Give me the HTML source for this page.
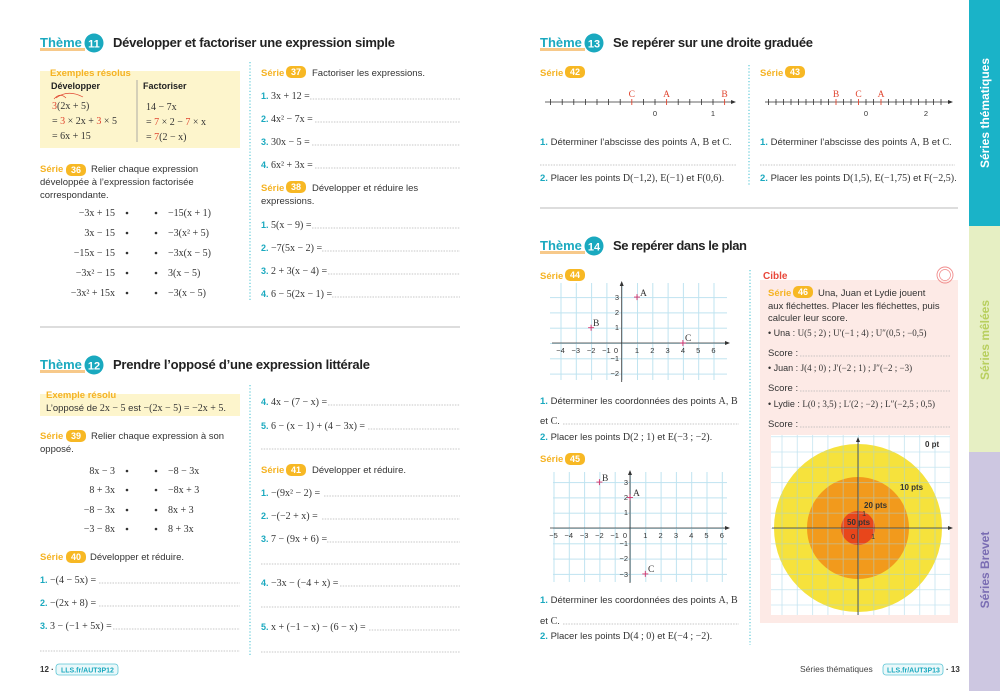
<!DOCTYPE html>
<html><head><meta charset="utf-8"><style>
html,body{margin:0;padding:0;background:#fff;}
svg{display:block;font-family:"Liberation Sans",sans-serif;}
.t{font-size:9.5px;fill:#333;}
.m{font-family:"Liberation Serif",serif;font-size:10px;fill:#333;}
.n{fill:#1aa9bf;font-weight:bold;font-family:"Liberation Sans",sans-serif;}
.ser{font-size:9.5px;fill:#f5b324;font-weight:bold;}
.bt{font-size:9px;fill:#fff;font-weight:bold;}
.th{font-size:13px;fill:#1aa9bf;font-weight:bold;}
.tt{font-size:13px;fill:#222;font-weight:bold;}
.dl{stroke:#b5b5b5;stroke-width:0.8;stroke-dasharray:1.5 1.2;}
.vd{stroke:#3cbfd0;stroke-width:1;stroke-dasharray:1.2 2;}
.ax{stroke:#333;stroke-width:0.8;fill:none;}
.sm{font-size:7.5px;fill:#333;}
.r{fill:#e0452f;}
</style></head><body>
<svg width="1000" height="691" viewBox="0 0 1000 691" xmlns="http://www.w3.org/2000/svg">
<defs>
<pattern id="g1" x="621.7" y="343" width="15.3" height="15.3" patternUnits="userSpaceOnUse"><path d="M0 0.5H15.3M0.5 0V15.3" stroke="#bfe3f0" stroke-width="1"/></pattern>
<pattern id="g2" x="630" y="528" width="15.3" height="15.3" patternUnits="userSpaceOnUse"><path d="M0 0.5H15.3M0.5 0V15.3" stroke="#bfe3f0" stroke-width="1"/></pattern>
<pattern id="g3" x="858" y="528" width="15.3" height="15.3" patternUnits="userSpaceOnUse"><path d="M0 0.5H15.3M0.5 0V15.3" stroke="#9fd3e6" stroke-width="0.8"/></pattern>
</defs>

<!-- sidebar -->
<rect x="969" y="0" width="31" height="228" fill="#1ab3c8"/>
<rect x="969" y="226" width="31" height="228" fill="#e6efc3"/>
<rect x="969" y="452" width="31" height="239" fill="#cdc7e1"/>
<text transform="translate(989,113) rotate(-90)" text-anchor="middle" style="font-size:12px;font-weight:bold;fill:#fff">Séries thématiques</text>
<text transform="translate(989,340) rotate(-90)" text-anchor="middle" style="font-size:12px;font-weight:bold;fill:#b8cf5e">Séries mêlées</text>
<text transform="translate(989,570) rotate(-90)" text-anchor="middle" style="font-size:12px;font-weight:bold;fill:#7a6db3">Séries Brevet</text>

<!-- ===== LEFT PAGE ===== -->
<rect x="40" y="48" width="45" height="3" fill="#f7c98a"/>
<text x="40" y="47" class="th">Thème</text>
<circle cx="94" cy="43" r="9.5" fill="#1aa9bf"/><text x="94" y="47.5" text-anchor="middle" style="font-size:11px;font-weight:bold;fill:#fff">11</text>
<text x="113" y="47" class="tt" textLength="282">Développer et factoriser une expression simple</text>

<rect x="40" y="71" width="200" height="77" fill="#fdf5cc"/>
<text x="50" y="76" style="font-size:9.5px;fill:#f5b324;font-weight:bold">Exemples résolus</text>
<text x="51" y="89" style="font-size:9px;font-weight:bold;fill:#222">Développer</text>
<text x="143" y="89" style="font-size:9px;font-weight:bold;fill:#222">Factoriser</text>
<line x1="137" y1="80" x2="137" y2="142" stroke="#999" stroke-width="0.8"/>
<path d="M54 99 Q60 92 66 98 M56 98 Q68 89 83 97" stroke="#e0452f" fill="none" stroke-width="0.7"/>
<text x="52" y="109" class="m"><tspan class="r">3</tspan>(2x + 5)</text>
<text x="52" y="124" class="m">= <tspan class="r">3</tspan> × 2x + <tspan class="r">3</tspan> × 5</text>
<text x="52" y="139" class="m">= 6x + 15</text>
<text x="146" y="110" class="m">14 − 7x</text>
<text x="146" y="125" class="m">= <tspan class="r">7</tspan> × 2 − <tspan class="r">7</tspan> × x</text>
<text x="146" y="140" class="m">= <tspan class="r">7</tspan>(2 − x)</text>

<text x="40" y="172" class="ser">Série</text><rect x="66" y="164" width="20" height="12" rx="5" fill="#f7b824"/><text x="76" y="173" text-anchor="middle" class="bt">36</text>
<text x="91" y="172" class="t">Relier chaque expression</text>
<text x="40" y="185" class="t">développée à l’expression factorisée</text>
<text x="40" y="198" class="t">correspondante.</text>
<g class="m" text-anchor="end">
<text x="115" y="216">−3x + 15</text><text x="115" y="236">3x − 15</text><text x="115" y="256">−15x − 15</text><text x="115" y="276">−3x² − 15</text><text x="115" y="296">−3x² + 15x</text>
</g>
<g class="m">
<text x="168" y="216">−15(x + 1)</text><text x="168" y="236">−3(x² + 5)</text><text x="168" y="256">−3x(x − 5)</text><text x="168" y="276">3(x − 5)</text><text x="168" y="296">−3(x − 5)</text>
</g>
<g fill="#333"><circle cx="127" cy="213" r="1.3"/><circle cx="156" cy="213" r="1.3"/><circle cx="127" cy="233" r="1.3"/><circle cx="156" cy="233" r="1.3"/><circle cx="127" cy="253" r="1.3"/><circle cx="156" cy="253" r="1.3"/><circle cx="127" cy="273" r="1.3"/><circle cx="156" cy="273" r="1.3"/><circle cx="127" cy="293" r="1.3"/><circle cx="156" cy="293" r="1.3"/></g>

<line x1="250" y1="62" x2="250" y2="300" class="vd"/>
<text x="261" y="76" class="ser">Série</text><rect x="286" y="66" width="20" height="12" rx="5" fill="#f7b824"/><text x="296" y="75" text-anchor="middle" class="bt">37</text>
<text x="312" y="76" class="t">Factoriser les expressions.</text>
<text x="261" y="99" class="m"><tspan class="n" style="font-size:9px">1.</tspan> 3x + 12 =</text><line x1="310" y1="99" x2="460" y2="99" class="dl"/>
<text x="261" y="122" class="m"><tspan class="n" style="font-size:9px">2.</tspan> 4x² − 7x =</text><line x1="315" y1="122" x2="460" y2="122" class="dl"/>
<text x="261" y="145" class="m"><tspan class="n" style="font-size:9px">3.</tspan> 30x − 5 =</text><line x1="312" y1="145" x2="460" y2="145" class="dl"/>
<text x="261" y="168" class="m"><tspan class="n" style="font-size:9px">4.</tspan> 6x² + 3x =</text><line x1="315" y1="168" x2="460" y2="168" class="dl"/>
<text x="261" y="191" class="ser">Série</text><rect x="286" y="181" width="20" height="12" rx="5" fill="#f7b824"/><text x="296" y="190" text-anchor="middle" class="bt">38</text>
<text x="312" y="191" class="t">Développer et réduire les</text>
<text x="261" y="204" class="t">expressions.</text>
<text x="261" y="228" class="m"><tspan class="n" style="font-size:9px">1.</tspan> 5(x − 9) =</text><line x1="312" y1="228" x2="460" y2="228" class="dl"/>
<text x="261" y="251" class="m"><tspan class="n" style="font-size:9px">2.</tspan> −7(5x − 2) =</text><line x1="322" y1="251" x2="460" y2="251" class="dl"/>
<text x="261" y="274" class="m"><tspan class="n" style="font-size:9px">3.</tspan> 2 + 3(x − 4) =</text><line x1="328" y1="274" x2="460" y2="274" class="dl"/>
<text x="261" y="297" class="m"><tspan class="n" style="font-size:9px">4.</tspan> 6 − 5(2x − 1) =</text><line x1="332" y1="297" x2="460" y2="297" class="dl"/>

<line x1="40" y1="327" x2="460" y2="327" stroke="#bbb" stroke-width="1"/>

<rect x="40" y="370" width="45" height="3" fill="#f7c98a"/>
<text x="40" y="369" class="th">Thème</text>
<circle cx="94" cy="365" r="9.5" fill="#1aa9bf"/><text x="94" y="369.5" text-anchor="middle" style="font-size:11px;font-weight:bold;fill:#fff">12</text>
<text x="113" y="369" class="tt" textLength="257">Prendre l’opposé d’une expression littérale</text>

<rect x="40" y="394" width="200" height="22" fill="#fdf5cc"/>
<text x="46" y="398" style="font-size:9.5px;fill:#f5b324;font-weight:bold">Exemple résolu</text>
<text x="46" y="411" class="t">L’opposé de <tspan class="m">2x − 5</tspan> est <tspan class="m">−(2x − 5) = −2x + 5</tspan>.</text>

<text x="40" y="439" class="ser">Série</text><rect x="66" y="430" width="20" height="12" rx="5" fill="#f7b824"/><text x="76" y="439" text-anchor="middle" class="bt">39</text>
<text x="91" y="439" class="t">Relier chaque expression à son</text>
<text x="40" y="452" class="t">opposé.</text>
<g class="m" text-anchor="end"><text x="115" y="474">8x − 3</text><text x="115" y="493">8 + 3x</text><text x="115" y="513">−8 − 3x</text><text x="115" y="532">−3 − 8x</text></g>
<g class="m"><text x="168" y="474">−8 − 3x</text><text x="168" y="493">−8x + 3</text><text x="168" y="513">8x + 3</text><text x="168" y="532">8 + 3x</text></g>
<g fill="#333"><circle cx="127" cy="471" r="1.3"/><circle cx="156" cy="471" r="1.3"/><circle cx="127" cy="490" r="1.3"/><circle cx="156" cy="490" r="1.3"/><circle cx="127" cy="510" r="1.3"/><circle cx="156" cy="510" r="1.3"/><circle cx="127" cy="529" r="1.3"/><circle cx="156" cy="529" r="1.3"/></g>

<text x="40" y="560" class="ser">Série</text><rect x="66" y="551" width="20" height="12" rx="5" fill="#f7b824"/><text x="76" y="560" text-anchor="middle" class="bt">40</text>
<text x="90" y="560" class="t">Développer et réduire.</text>
<text x="40" y="583" class="m"><tspan class="n" style="font-size:9px">1.</tspan> −(4 − 5x) =</text><line x1="99" y1="583" x2="240" y2="583" class="dl"/>
<text x="40" y="606" class="m"><tspan class="n" style="font-size:9px">2.</tspan> −(2x + 8) =</text><line x1="99" y1="606" x2="240" y2="606" class="dl"/>
<text x="40" y="629" class="m"><tspan class="n" style="font-size:9px">3.</tspan> 3 − (−1 + 5x) =</text><line x1="113" y1="629" x2="240" y2="629" class="dl"/>
<line x1="40" y1="651" x2="240" y2="651" class="dl"/>

<line x1="250" y1="385" x2="250" y2="655" class="vd"/>
<text x="261" y="405" class="m"><tspan class="n" style="font-size:9px">4.</tspan> 4x − (7 − x) =</text><line x1="328" y1="405" x2="460" y2="405" class="dl"/>
<text x="261" y="429" class="m"><tspan class="n" style="font-size:9px">5.</tspan> 6 − (x − 1) + (4 − 3x) =</text><line x1="368" y1="429" x2="460" y2="429" class="dl"/>
<line x1="261" y1="449" x2="460" y2="449" class="dl"/>
<text x="261" y="473" class="ser">Série</text><rect x="286" y="464" width="20" height="12" rx="5" fill="#f7b824"/><text x="296" y="473" text-anchor="middle" class="bt">41</text>
<text x="312" y="473" class="t">Développer et réduire.</text>
<text x="261" y="496" class="m"><tspan class="n" style="font-size:9px">1.</tspan> −(9x² − 2) =</text><line x1="324" y1="496" x2="460" y2="496" class="dl"/>
<text x="261" y="519" class="m"><tspan class="n" style="font-size:9px">2.</tspan> −(−2 + x) =</text><line x1="322" y1="519" x2="460" y2="519" class="dl"/>
<text x="261" y="542" class="m"><tspan class="n" style="font-size:9px">3.</tspan> 7 − (9x + 6) =</text><line x1="327" y1="542" x2="460" y2="542" class="dl"/>
<line x1="261" y1="564" x2="460" y2="564" class="dl"/>
<text x="261" y="586" class="m"><tspan class="n" style="font-size:9px">4.</tspan> −3x − (−4 + x) =</text><line x1="340" y1="586" x2="460" y2="586" class="dl"/>
<line x1="261" y1="607" x2="460" y2="607" class="dl"/>
<text x="261" y="630" class="m"><tspan class="n" style="font-size:9px">5.</tspan> x + (−1 − x) − (6 − x) =</text><line x1="369" y1="630" x2="460" y2="630" class="dl"/>
<line x1="261" y1="652" x2="460" y2="652" class="dl"/>

<text x="40" y="672" style="font-size:8px;font-weight:bold;fill:#333">12 ·</text>
<rect x="56" y="664" width="62" height="11" rx="3" fill="#eaf8fa" stroke="#5cc5d5" stroke-width="0.8"/>
<text x="61" y="672.5" style="font-size:7px;fill:#1aa9bf;font-weight:bold">LLS.fr/AUT3P12</text>

<!-- ===== RIGHT PAGE ===== -->
<rect x="540" y="48" width="45" height="3" fill="#f7c98a"/>
<text x="540" y="47" class="th">Thème</text>
<circle cx="594" cy="43" r="9.5" fill="#1aa9bf"/><text x="594" y="47.5" text-anchor="middle" style="font-size:11px;font-weight:bold;fill:#fff">13</text>
<text x="613" y="47" class="tt" textLength="200">Se repérer sur une droite graduée</text>

<text x="540" y="76" class="ser">Série</text><rect x="565" y="66" width="20" height="12" rx="5" fill="#f7b824"/><text x="575" y="75" text-anchor="middle" class="bt">42</text>
<text x="760" y="76" class="ser">Série</text><rect x="785" y="66" width="20" height="12" rx="5" fill="#f7b824"/><text x="795" y="75" text-anchor="middle" class="bt">43</text>

<!-- number line 1 -->
<line x1="545" y1="102" x2="733" y2="102" class="ax"/><path d="M736 102 l-5 -2 v4z" fill="#333"/>
<path d="M550.6 99v6M562.2 99v6M573.8 99v6M585.4 99v6M597 99v6M608.6 99v6M620.2 99v6M643.4 99v6M655 99v6M678.2 99v6M689.8 99v6M701.4 99v6M713 99v6" stroke="#333" stroke-width="0.8"/>
<path d="M631.8 99v6M666.6 99v6M724.6 99v6" stroke="#e0452f" stroke-width="0.9"/>
<g class="m r" text-anchor="middle" style="font-size:9.5px"><text x="631.8" y="97" class="r">C</text><text x="666.6" y="97" class="r">A</text><text x="724.6" y="97" class="r">B</text></g>
<text x="655" y="116" class="sm" text-anchor="middle">0</text><text x="713" y="116" class="sm" text-anchor="middle">1</text>

<!-- number line 2 -->
<line x1="765" y1="102" x2="950" y2="102" class="ax"/><path d="M953 102 l-5 -2 v4z" fill="#333"/>
<path d="M768.5 99v6M776 99v6M783.5 99v6M791 99v6M798.5 99v6M806 99v6M813.5 99v6M821 99v6M828.5 99v6M843.5 99v6M851 99v6M866 99v6M873.5 99v6M888.5 99v6M896 99v6M903.5 99v6M911 99v6M918.5 99v6M926 99v6M933.5 99v6M941 99v6" stroke="#333" stroke-width="0.8"/>
<path d="M836 99v6M858.5 99v6M881 99v6" stroke="#e0452f" stroke-width="0.9"/>
<g class="m" text-anchor="middle" style="font-size:9.5px"><text x="836" y="97" class="r">B</text><text x="858.5" y="97" class="r">C</text><text x="881" y="97" class="r">A</text></g>
<text x="866" y="116" class="sm" text-anchor="middle">0</text><text x="926" y="116" class="sm" text-anchor="middle">2</text>

<text x="540" y="145" class="t"><tspan class="n">1.</tspan> Déterminer l’abscisse des points <tspan class="m">A</tspan>, <tspan class="m">B</tspan> et <tspan class="m">C</tspan>.</text>
<text x="760" y="145" class="t"><tspan class="n">1.</tspan> Déterminer l’abscisse des points <tspan class="m">A</tspan>, <tspan class="m">B</tspan> et <tspan class="m">C</tspan>.</text>
<line x1="540" y1="165" x2="737" y2="165" class="dl"/><line x1="760" y1="165" x2="955" y2="165" class="dl"/>
<text x="540" y="181" class="t"><tspan class="n">2.</tspan> Placer les points <tspan class="m">D(−1,2)</tspan>, <tspan class="m">E(−1)</tspan> et <tspan class="m">F(0,6)</tspan>.</text>
<text x="760" y="181" class="t"><tspan class="n">2.</tspan> Placer les points <tspan class="m">D(1,5)</tspan>, <tspan class="m">E(−1,75)</tspan> et <tspan class="m">F(−2,5)</tspan>.</text>
<line x1="749" y1="65" x2="749" y2="185" class="vd"/>

<line x1="540" y1="208" x2="958" y2="208" stroke="#bbb" stroke-width="1"/>

<rect x="540" y="251" width="45" height="3" fill="#f7c98a"/>
<text x="540" y="250" class="th">Thème</text>
<circle cx="594" cy="246" r="9.5" fill="#1aa9bf"/><text x="594" y="250.5" text-anchor="middle" style="font-size:11px;font-weight:bold;fill:#fff">14</text>
<text x="613" y="250" class="tt" textLength="134">Se repérer dans le plan</text>

<text x="540" y="279" class="ser">Série</text><rect x="565" y="269" width="20" height="12" rx="5" fill="#f7b824"/><text x="575" y="278" text-anchor="middle" class="bt">44</text>

<!-- graph 1 -->
<rect x="550" y="283" width="177" height="97" fill="url(#g1)"/>
<line x1="552" y1="343" x2="727" y2="343" class="ax"/><path d="M730 343 l-5 -2 v4z" fill="#333"/>
<line x1="621.7" y1="382" x2="621.7" y2="284" class="ax"/><path d="M621.7 281 l-2 5 h4z" fill="#333"/>
<g class="sm" text-anchor="middle"><text x="560.5" y="353">−4</text><text x="575.8" y="353">−3</text><text x="591.1" y="353">−2</text><text x="606.4" y="353">−1</text><text x="637" y="353">1</text><text x="652.3" y="353">2</text><text x="667.6" y="353">3</text><text x="682.9" y="353">4</text><text x="698.2" y="353">5</text><text x="713.5" y="353">6</text></g>
<g class="sm" text-anchor="end"><text x="618" y="353">0</text><text x="619" y="300">3</text><text x="619" y="315">2</text><text x="619" y="330">1</text><text x="619" y="361">−1</text><text x="619" y="376">−2</text></g>
<g stroke="#d6336c" stroke-width="0.9"><path d="M634 297.1h6M637 294.1v6M588.1 327.7h6M591.1 324.7v6M679.9 343h6M682.9 340v6"/></g>
<g class="m" style="font-size:9.5px"><text x="640" y="296">A</text><text x="593" y="326">B</text><text x="685" y="341">C</text></g>

<text x="540" y="404" class="t"><tspan class="n">1.</tspan> Déterminer les coordonnées des points <tspan class="m">A</tspan>, <tspan class="m">B</tspan></text>
<text x="540" y="424" class="t">et <tspan class="m">C</tspan>.</text><line x1="563" y1="424" x2="739" y2="424" class="dl"/>
<text x="540" y="440" class="t"><tspan class="n">2.</tspan> Placer les points <tspan class="m">D(2 ; 1)</tspan> et <tspan class="m">E(−3 ; −2)</tspan>.</text>

<text x="540" y="462" class="ser">Série</text><rect x="565" y="453" width="20" height="12" rx="5" fill="#f7b824"/><text x="575" y="462" text-anchor="middle" class="bt">45</text>

<!-- graph 2 -->
<rect x="553" y="472" width="174" height="110" fill="url(#g2)"/>
<line x1="550" y1="528" x2="727" y2="528" class="ax"/><path d="M730 528 l-5 -2 v4z" fill="#333"/>
<line x1="630" y1="583" x2="630" y2="473" class="ax"/><path d="M630 470 l-2 5 h4z" fill="#333"/>
<g class="sm" text-anchor="middle"><text x="553.5" y="538">−5</text><text x="568.8" y="538">−4</text><text x="584.1" y="538">−3</text><text x="599.4" y="538">−2</text><text x="614.7" y="538">−1</text><text x="645.3" y="538">1</text><text x="660.6" y="538">2</text><text x="675.9" y="538">3</text><text x="691.2" y="538">4</text><text x="706.5" y="538">5</text><text x="721.8" y="538">6</text></g>
<g class="sm" text-anchor="end"><text x="627" y="538">0</text><text x="628" y="485">3</text><text x="628" y="500">2</text><text x="628" y="515">1</text><text x="628" y="546">−1</text><text x="628" y="561">−2</text><text x="628" y="577">−3</text></g>
<g stroke="#d6336c" stroke-width="0.9"><path d="M596.4 482.1h6M599.4 479.1v6M627 497.4h6M630 494.4v6M642.3 573.9h6M645.3 570.9v6"/></g>
<g class="m" style="font-size:9.5px"><text x="602" y="481">B</text><text x="633" y="496">A</text><text x="648" y="572">C</text></g>

<text x="540" y="603" class="t"><tspan class="n">1.</tspan> Déterminer les coordonnées des points <tspan class="m">A</tspan>, <tspan class="m">B</tspan></text>
<text x="540" y="624" class="t">et <tspan class="m">C</tspan>.</text><line x1="563" y1="624" x2="739" y2="624" class="dl"/>
<text x="540" y="639" class="t"><tspan class="n">2.</tspan> Placer les points <tspan class="m">D(4 ; 0)</tspan> et <tspan class="m">E(−4 ; −2)</tspan>.</text>
<line x1="750" y1="270" x2="750" y2="645" class="vd"/>

<!-- Cible -->
<rect x="760" y="280" width="198" height="343" fill="#fdeae6"/>
<text x="763" y="279" style="font-size:10px;font-weight:bold;fill:#e8473a">Cible</text>
<circle cx="945" cy="275" r="8" fill="none" stroke="#f08a8a" stroke-width="0.9"/><circle cx="945" cy="275" r="5.5" fill="none" stroke="#f08a8a" stroke-width="0.7"/>
<text x="768" y="296" class="ser">Série</text><rect x="793" y="286" width="20" height="12" rx="5" fill="#f7b824"/><text x="803" y="295" text-anchor="middle" class="bt">46</text>
<text x="818" y="296" class="t">Una, Juan et Lydie jouent</text>
<text x="768" y="309" class="t">aux fléchettes. Placer les fléchettes, puis</text>
<text x="768" y="321" class="t">calculer leur score.</text>
<text x="768" y="336" class="t" style="font-size:9px">• Una : <tspan class="m" style="font-size:9px">U(5 ; 2) ; U′(−1 ; 4) ; U″(0,5 ; −0,5)</tspan></text>
<text x="768" y="356" class="t">Score :</text><line x1="800" y1="356" x2="950" y2="356" class="dl"/>
<text x="768" y="371" class="t" style="font-size:9px">• Juan : <tspan class="m" style="font-size:9px">J(4 ; 0) ; J′(−2 ; 1) ; J″(−2 ; −3)</tspan></text>
<text x="768" y="391" class="t">Score :</text><line x1="800" y1="391" x2="950" y2="391" class="dl"/>
<text x="768" y="407" class="t" style="font-size:9px">• Lydie : <tspan class="m" style="font-size:9px">L(0 ; 3,5) ; L′(2 ; −2) ; L″(−2,5 ; 0,5)</tspan></text>
<text x="768" y="427" class="t">Score :</text><line x1="800" y1="427" x2="950" y2="427" class="dl"/>

<rect x="771" y="435" width="179" height="180" fill="#fff"/>
<circle cx="858" cy="528" r="84" fill="#f6e23c"/>
<circle cx="858" cy="528" r="51" fill="#f29a1c"/>
<circle cx="858" cy="528" r="17" fill="#e8461b"/>
<rect x="771" y="435" width="179" height="180" fill="url(#g3)" opacity="0.6"/>
<line x1="772" y1="528" x2="950" y2="528" class="ax"/><path d="M953 528 l-5 -2 v4z" fill="#333"/>
<line x1="858" y1="615" x2="858" y2="440" class="ax"/><path d="M858 437 l-2 5 h4z" fill="#333"/>
<text x="862" y="516" class="sm">1</text><text x="871" y="539" class="sm">1</text><text x="851" y="539" class="sm">0</text>
<g style="font-size:8px;font-weight:bold;fill:#333"><text x="925" y="447">0 pt</text><text x="900" y="490">10 pts</text><text x="864" y="508">20 pts</text><text x="847" y="525">50 pts</text></g>

<text x="800" y="672" style="font-size:8.5px;fill:#444">Séries thématiques</text>
<rect x="883" y="664" width="60" height="11" rx="3" fill="#eaf8fa" stroke="#5cc5d5" stroke-width="0.8"/>
<text x="887" y="672.5" style="font-size:7px;fill:#1aa9bf;font-weight:bold">LLS.fr/AUT3P13</text>
<text x="946" y="672" style="font-size:8px;font-weight:bold;fill:#333">· 13</text>
</svg>
</body></html>
